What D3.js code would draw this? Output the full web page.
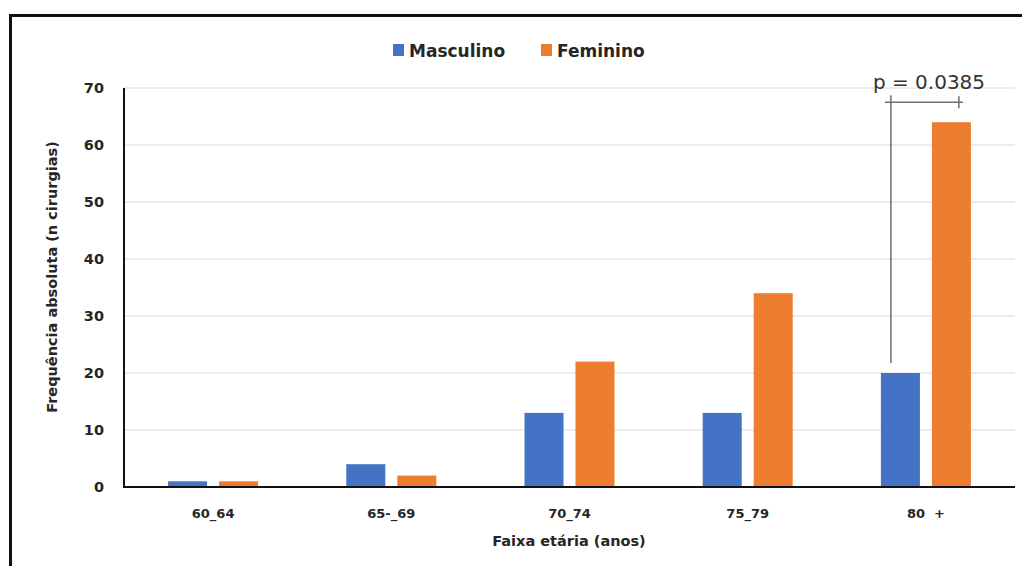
<!DOCTYPE html>
<html>
<head>
<meta charset="utf-8">
<script src="https://cdn.jsdelivr.net/npm/d3@7"></script>
<style>
  html, body { margin: 0; padding: 0; background: #fff; }
  svg { display: block; }
  .lbl { font-family: "DejaVu Sans", "Liberation Sans", Arial, sans-serif; font-weight: bold; fill: #262626; }
</style>
</head>
<body>
<svg id="chart" width="1022" height="566"></svg>
<script>
// Surgeries by age group and sex
const categories = ["60_64", "65-_69", "70_74", "75_79", "80  +"];
const masculino = [1, 4, 13, 13, 20];
const feminino = [1, 2, 22, 34, 64];
const seriesNames = ["Masculino", "Feminino"];
const seriesColors = ["#4472C4", "#ED7D31"];
const yTicks = [0, 10, 20, 30, 40, 50, 60, 70];
const pLabel = "p = 0.0385";

const svg = d3.select("#chart");

// outer frame
svg.append("path")
  .attr("d", "M10.5,566 L10.5,15.5 L1022,15.5")
  .attr("fill", "none").attr("stroke", "#111").attr("stroke-width", 3);

const plot = { left: 124, right: 1015, top: 88, bottom: 487 };

const x = d3.scaleBand().domain(categories).range([plot.left, plot.right]);
const y = d3.scaleLinear().domain([0, 70]).range([plot.bottom, plot.top]);
const groupW = 90;
const inner = d3.scaleBand().domain(seriesNames).range([0, groupW]).paddingInner(0.235);
const gx = c => x(c) + x.bandwidth() / 2 - groupW / 2;

// gridlines
svg.append("g").selectAll("line").data(yTicks.slice(1)).join("line")
  .attr("x1", plot.left).attr("x2", plot.right)
  .attr("y1", d => y(d)).attr("y2", d => y(d))
  .attr("stroke", "#d9d9d9").attr("stroke-width", 1);

// y tick labels
svg.append("g").selectAll("text").data(yTicks).join("text")
  .attr("class", "lbl")
  .attr("x", 104).attr("y", d => y(d)).attr("dy", "0.36em")
  .attr("text-anchor", "end").attr("font-size", 14.5)
  .text(d => d);

// bars
const rows = categories.map((c, i) => ({ c, vals: [masculino[i], feminino[i]] }));
const groups = svg.append("g").selectAll("g").data(rows).join("g")
  .attr("transform", d => `translate(${gx(d.c)},0)`);
groups.selectAll("rect").data(d => d.vals.map((v, j) => ({ v, s: seriesNames[j], j }))).join("rect")
  .attr("x", d => inner(d.s))
  .attr("width", inner.bandwidth())
  .attr("y", d => y(d.v))
  .attr("height", d => y(0) - y(d.v))
  .attr("fill", d => seriesColors[d.j]);

// axes lines
svg.append("line").attr("x1", plot.left).attr("x2", plot.left)
  .attr("y1", plot.top).attr("y2", plot.bottom + 1)
  .attr("stroke", "#111").attr("stroke-width", 2);
svg.append("line").attr("x1", plot.left - 1).attr("x2", plot.right)
  .attr("y1", plot.bottom).attr("y2", plot.bottom)
  .attr("stroke", "#111").attr("stroke-width", 2);

// x tick labels
svg.append("g").selectAll("text").data(categories).join("text")
  .attr("class", "lbl")
  .attr("x", d => x(d) + x.bandwidth() / 2).attr("y", 518)
  .attr("text-anchor", "middle").attr("font-size", 13)
  .style("white-space", "pre")
  .text(d => d);

// axis titles
svg.append("text").attr("class", "lbl")
  .attr("x", 569).attr("y", 546).attr("text-anchor", "middle").attr("font-size", 14.5)
  .text("Faixa etária (anos)");
svg.append("text").attr("class", "lbl")
  .attr("transform", "translate(57,277) rotate(-90)")
  .attr("text-anchor", "middle").attr("font-size", 14.5)
  .text("Frequência absoluta (n cirurgias)");

// legend
const legendX = [393, 541];
const leg = svg.append("g").selectAll("g").data(seriesNames).join("g")
  .attr("transform", (d, i) => `translate(${legendX[i]},44)`);
leg.append("rect").attr("width", 11).attr("height", 12).attr("fill", (d, i) => seriesColors[i]);
leg.append("text").attr("class", "lbl").attr("x", 16).attr("y", 6.5).attr("dy", "0.36em")
  .attr("font-size", 17).text(d => d);

// significance bracket on the last group
const last = categories.length - 1;
const bx1 = gx(categories[last]) + inner("Masculino") + 10;
const bx2 = gx(categories[last]) + inner("Feminino") + 27;
const by = y(67.5);
const br = svg.append("g").attr("stroke", "#6e6e6e").attr("stroke-width", 1.5).attr("fill", "none");
br.append("line").attr("x1", bx1).attr("x2", bx1).attr("y1", by - 7).attr("y2", y(masculino[last]) - 10);
br.append("line").attr("x1", bx1 - 6).attr("x2", bx2 + 4).attr("y1", by).attr("y2", by);
br.append("line").attr("x1", bx2).attr("x2", bx2).attr("y1", by - 6).attr("y2", by + 6);
svg.append("text")
  .attr("x", 929).attr("y", 89)
  .attr("text-anchor", "middle")
  .attr("font-family", "DejaVu Sans, Liberation Sans, Arial, sans-serif")
  .attr("font-size", 20).attr("fill", "#333")
  .text(pLabel);
</script>
</body>
</html>
